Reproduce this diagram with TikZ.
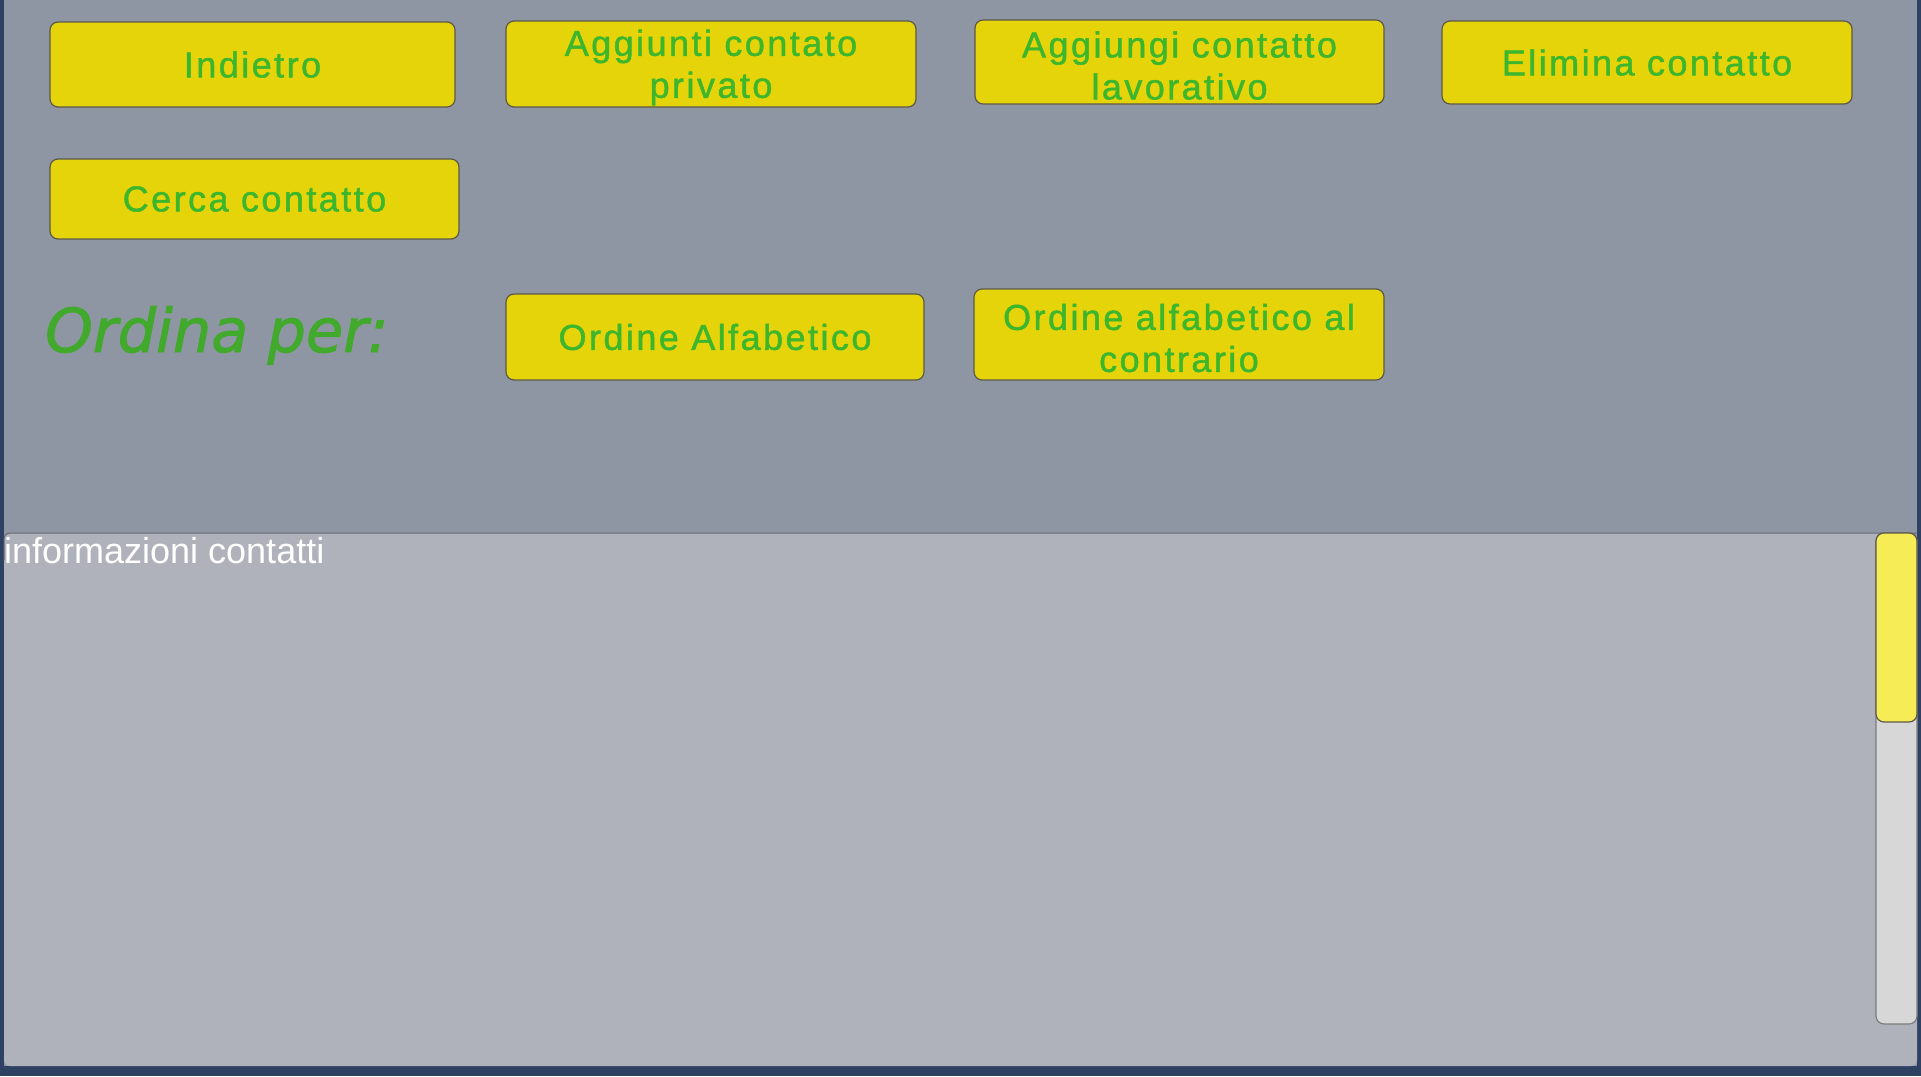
\documentclass[tikz,border=0pt]{standalone}
\usepackage{fontspec}
\setmainfont{Liberation Sans}
\newfontfamily\btnfont[LetterSpace=6.8,FakeBold=1.3]{Liberation Sans}
\newfontfamily\ordfont[ItalicFeatures={FakeBold=1.6}]{DejaVu Sans}
\definecolor{bgtop}{HTML}{8F96A3}
\definecolor{frame}{HTML}{2F4163}
\definecolor{panelc}{HTML}{AFB2BA}
\definecolor{btnfill}{HTML}{E6D40B}
\definecolor{btnedge}{HTML}{5C5848}
\definecolor{btntext}{HTML}{3CB62C}
\definecolor{ordtext}{HTML}{41A92C}
\definecolor{trackc}{HTML}{D7D7D7}
\definecolor{trackedge}{HTML}{7C7C7C}
\definecolor{handlec}{HTML}{F6EC55}
\tikzset{
  uibtn/.style={draw=btnedge, line width=1.2pt, fill=btnfill, rounded corners=8pt,
    inner sep=0pt, align=center, text=btntext,
    font=\btnfont\fontsize{36}{42}\selectfont},
  btntxt/.style={inner sep=0pt, align=center, text=btntext,
    font=\btnfont\fontsize{36}{42}\selectfont},
}
\begin{document}
\begin{tikzpicture}[x=1pt,y=-1pt]
\useasboundingbox (0,0) rectangle (1921,1076);
% background and frame
\fill[frame] (0,0) rectangle (1921,1076);
\fill[bgtop] (4,0) rectangle (1917,1066);
% info panel
\fill[panelc, rounded corners=6pt] (4,533) rectangle (1917,1066);
\draw[color=bgtop!70!black, line width=1pt, rounded corners=6pt] (4,560) -- (4,533) -- (1917,533);
% buttons
\node[uibtn, minimum width=405pt, minimum height=85pt] (indietro) at (252.5,64.5) {Indietro};
\node[uibtn, minimum width=410pt, minimum height=86pt] (privato) at (711,64) {};
\node[btntxt] (privatotxt) at ([yshift=-3.5pt]privato.center) {Aggiunti contato\\privato};
\node[uibtn, minimum width=409pt, minimum height=84pt] (lavorativo) at (1179.5,62) {};
\node[btntxt] (lavorativotxt) at ([yshift=-3.5pt]lavorativo.center) {Aggiungi contatto\\lavorativo};
\node[uibtn, minimum width=410pt, minimum height=83pt] (elimina) at (1647,62.5) {Elimina contatto};
\node[uibtn, minimum width=409pt, minimum height=80pt] (cerca) at (254.5,199) {Cerca contatto};
\node[uibtn, minimum width=418pt, minimum height=86pt] (alfa) at (715,337) {Ordine Alfabetico};
\node[uibtn, minimum width=410pt, minimum height=91pt] (contrario) at (1179,334.5) {};
\node[btntxt] (contrariotxt) at ([yshift=-3.5pt]contrario.center) {Ordine alfabetico al\\contrario};
% labels
\node[anchor=base west, inner sep=0pt, text=ordtext, font=\ordfont\itshape\fontsize{60.5}{70}\selectfont] (ordina) at (45,352) {Ordina per:};
\node[anchor=base west, inner sep=0pt, text=white, font=\fontsize{36}{40}\selectfont] (info) at (4,563) {informazioni contatti};
% scrollbar
\node[draw=trackedge, line width=1.2pt, fill=trackc, rounded corners=8pt, inner sep=0pt,
  minimum width=41pt, minimum height=491pt] (track) at (1896.5,778.5) {};
\node[draw=btnedge, line width=1.2pt, fill=handlec, rounded corners=8pt, inner sep=0pt,
  minimum width=41pt, minimum height=189pt] (handle) at (1896.5,627.5) {};
\end{tikzpicture}
\end{document}
